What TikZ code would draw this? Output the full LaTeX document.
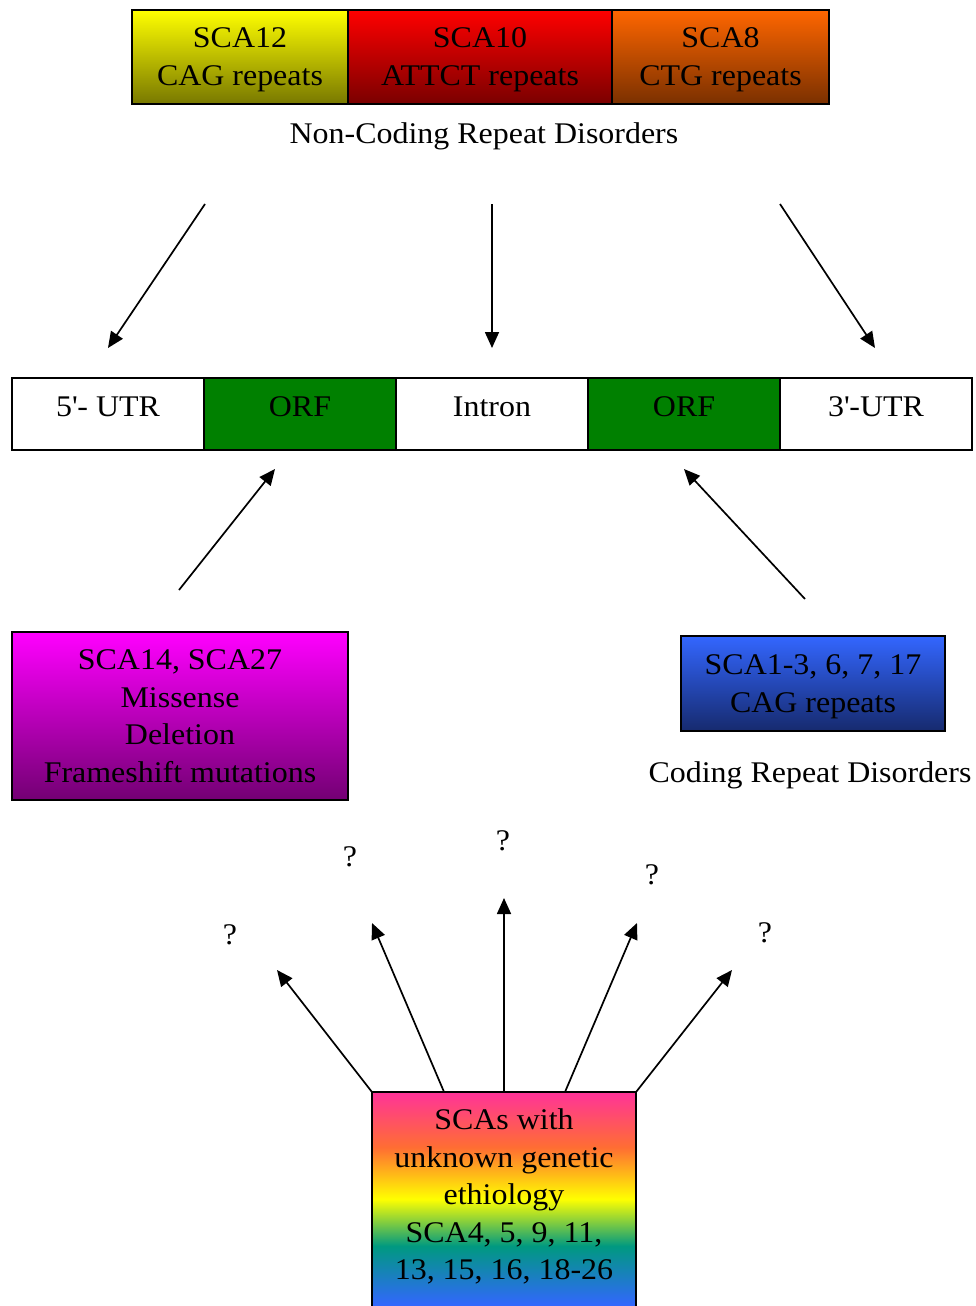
\documentclass[tikz,border=0pt]{standalone}
\usepackage{fontspec}
\setmainfont[FakeStretch=1.065]{Liberation Serif}
\usetikzlibrary{arrows.meta,calc}
\definecolor{cpink}{RGB}{255,51,153}
\definecolor{corange}{RGB}{255,110,50}
\definecolor{cyellow}{RGB}{255,255,0}
\definecolor{cteal}{RGB}{0,153,128}
\definecolor{cblue}{RGB}{51,102,255}
\definecolor{orfgreen}{RGB}{0,128,0}
\pgfdeclareverticalshading{rainbowsh}{100bp}{color(0bp)=(cblue); color(25bp)=(cblue); color(39bp)=(cteal); color(50bp)=(cyellow); color(62bp)=(corange); color(75bp)=(cpink); color(100bp)=(cpink)}
\tikzset{
  box/.style={draw=black, line width=1.5pt, minimum width=#1, inner sep=0pt},
  seg/.style={draw=black, line width=1.5pt, minimum width=192pt, minimum height=72pt, inner sep=0pt},
  lbl/.style={font=\fontsize{30}{37.5}\selectfont, align=center, inner sep=0pt},
  qm/.style={font=\fontsize{30}{37.5}\selectfont, inner sep=0pt},
  arr/.style={line width=1.7pt, -{Triangle[length=16pt,width=14pt]}}
}
\begin{document}
\begin{tikzpicture}[x=1pt,y=-1pt]
\useasboundingbox (0,0) rectangle (976,1306);
\clip (0,0) rectangle (976,1306);
% top boxes
\node[box=216pt, minimum height=94pt, top color=yellow, bottom color={rgb,255:red,120;green,120;blue,0}] (sca12) at (240,57) {};
\node[box=264pt, minimum height=94pt, top color=red, bottom color={rgb,255:red,122;green,0;blue,0}] (sca10) at (480,57) {};
\node[box=217pt, minimum height=94pt, top color={rgb,255:red,255;green,102;blue,0}, bottom color={rgb,255:red,122;green,48;blue,0}] (sca8) at (720.5,57) {};
\node[lbl] (t12) at (240,59.8) {SCA12\\CAG repeats};
\node[lbl] (t10) at (480,59.8) {SCA10\\ATTCT repeats};
\node[lbl] (t8) at (720.5,59.8) {SCA8\\CTG repeats};
\node[lbl] (ncrd) at (484,136) {Non-Coding Repeat Disorders};
% middle row
\node[seg, fill=white] (utr5) at (108,414) {};
\node[seg, fill=orfgreen] (orf1) at (300,414) {};
\node[seg, fill=white] (intron) at (492,414) {};
\node[seg, fill=orfgreen] (orf2) at (684,414) {};
\node[seg, fill=white] (utr3) at (876,414) {};
\node[lbl] (tutr5) at (108,407) {5\textquotesingle- UTR};
\node[lbl] (torf1) at (300,407) {ORF};
\node[lbl] (tintron) at (492,407) {Intron};
\node[lbl] (torf2) at (684,407) {ORF};
\node[lbl] (tutr3) at (876,407) {3\textquotesingle-UTR};
% top arrows
\coordinate (a1s) at (205,204); \coordinate (a1e) at (108,348);
\coordinate (a2s) at (492,204); \coordinate (a2e) at (492,348);
\coordinate (a3s) at (780,204); \coordinate (a3e) at (875,348);
\draw[arr] (a1s) -- (a1e);
\draw[arr] (a2s) -- (a2e);
\draw[arr] (a3s) -- (a3e);
% magenta box
\node[box=336pt, minimum height=168pt, top color=magenta, bottom color={rgb,255:red,115;green,0;blue,115}] (mis) at (180,716) {};
\node[lbl] (tmis) at (180,716.3) {SCA14, SCA27\\Missense\\Deletion\\Frameshift mutations};
% blue box
\node[box=264pt, minimum height=95pt, top color=cblue, bottom color={rgb,255:red,22;green,42;blue,110}] (cod) at (813,683.5) {};
\node[lbl] (tcod) at (813,687) {SCA1-3, 6, 7, 17\\CAG repeats};
\node[lbl] (crd) at (810,775) {Coding Repeat Disorders};
% arrows to ORFs
\coordinate (b1s) at (179,590); \coordinate (b1e) at (275,469);
\coordinate (b2s) at (805,599); \coordinate (b2e) at (684,469);
\draw[arr] (b1s) -- (b1e);
\draw[arr] (b2s) -- (b2e);
% bottom box
\node[minimum width=264pt, minimum height=214pt, inner sep=0pt, shading=rainbowsh] (unk) at (504,1199) {};
\draw[line width=1.5pt] (unk.south west) |- (unk.north east) -- (unk.south east);
\node[lbl] (tunk) at (504,1196.5) {SCAs with\\unknown genetic\\ethiology\\SCA4, 5, 9, 11,\\13, 15, 16, 18-26};
% question marks
\node[qm] (q1) at (230,935) {?};
\node[qm] (q2) at (350,857) {?};
\node[qm] (q3) at (503,841) {?};
\node[qm] (q4) at (652,875) {?};
\node[qm] (q5) at (765,933) {?};
\coordinate (c1e) at (277,970);
\coordinate (c2e) at (372,923);
\coordinate (c3e) at (504,898);
\coordinate (c4e) at (637,923);
\coordinate (c5e) at (732,970);
\draw[arr] (unk.north west) -- (c1e);
\draw[arr] ($(unk.north west)!0.273!(unk.north east)$) -- (c2e);
\draw[arr] (unk.north) -- (c3e);
\draw[arr] ($(unk.north west)!0.731!(unk.north east)$) -- (c4e);
\draw[arr] (unk.north east) -- (c5e);
\end{tikzpicture}
\end{document}
